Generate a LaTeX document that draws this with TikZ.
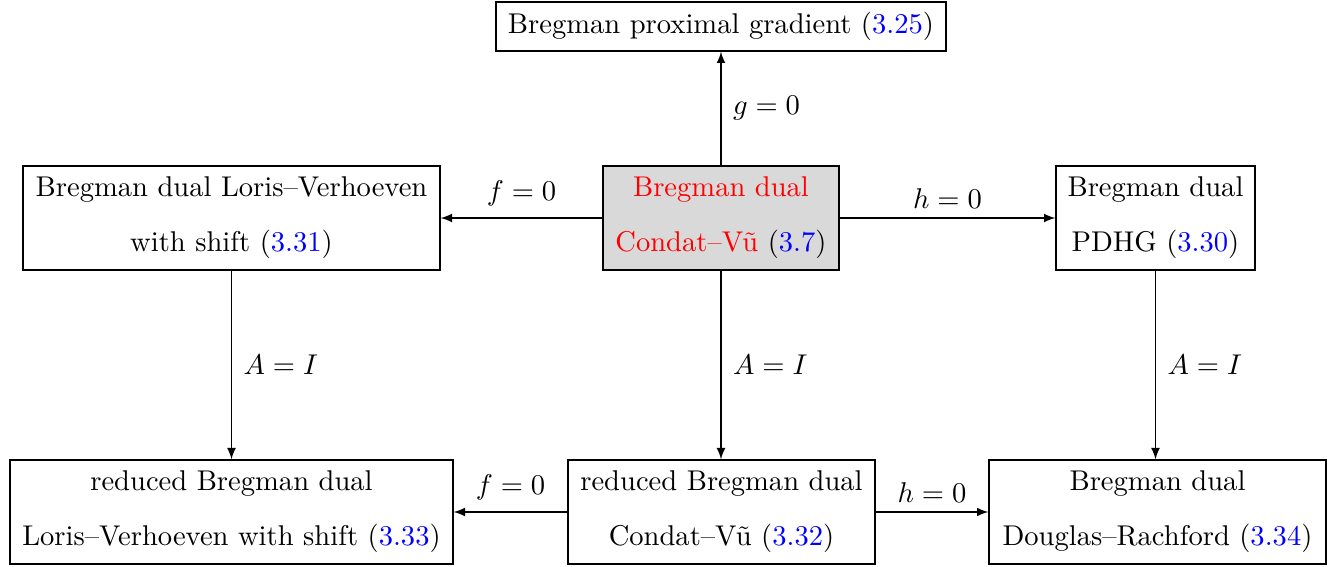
\documentclass[tikz,border=0pt]{standalone}
\usepackage{fontspec}
\usetikzlibrary{arrows}
\newdimen\pxu \pxu=0.35pt
\begin{document}
\begin{tikzpicture}[x=0.35pt,y=-0.35pt,
  box/.style={draw, inner sep=0pt, align=center, font=\normalsize},
  arr/.style={-latex, line width=0.4pt},
  lab/.style={inner sep=2pt}]
\useasboundingbox (0,0) rectangle (1338,567);
\newcommand\eqr[1]{(\textcolor{blue}{#1})}
\node[box, minimum width=450*\pxu, minimum height=49*\pxu] (top) at (721,26.5) {Bregman proximal gradient \eqr{3.25}};
\node[box, fill=gray!30, minimum width=236*\pxu, minimum height=104*\pxu] (c) at (721,218)
  {\textcolor{red}{Bregman dual}\\[7.25pt]\textcolor{red}{Condat--Vũ} \eqr{3.7}};
\node[box, minimum width=417*\pxu, minimum height=104*\pxu] (l) at (231.5,218)
  {Bregman dual Loris--Verhoeven\\[7.25pt]with shift \eqr{3.31}};
\node[box, minimum width=199*\pxu, minimum height=104*\pxu] (r) at (1155.5,218)
  {Bregman dual\\[7.25pt]PDHG \eqr{3.30}};
\node[box, minimum width=443*\pxu, minimum height=104*\pxu] (bl) at (231.5,512)
  {reduced Bregman dual\\[7.25pt]Loris--Verhoeven with shift \eqr{3.33}};
\node[box, minimum width=307*\pxu, minimum height=104*\pxu] (bc) at (721.5,512)
  {reduced Bregman dual\\[7.25pt]Condat--Vũ \eqr{3.32}};
\node[box, minimum width=337*\pxu, minimum height=104*\pxu] (br) at (1157.5,512)
  {Bregman dual\\[7.25pt]Douglas--Rachford \eqr{3.34}};

\draw[arr] (c.north) -- node[lab, right=2pt] {$g=0$} (top.south -| c.north);
\draw[arr] (c.west) -- node[lab, above=2pt] {$f=0$} (l.east);
\draw[arr] (c.east) -- node[lab, above=1pt] {$h=0$} (r.west);
\draw[arr] (l.south) -- node[lab, right=2pt] {$A=I$} (l.south |- bl.north);
\draw[arr] (c.south) -- node[lab, right=2pt] {$A=I$} (c.south |- bc.north);
\draw[arr] (r.south) -- node[lab, right=2pt] {$A=I$} (r.south |- br.north);
\draw[arr] (bc.west) -- node[lab, above=2pt] {$f=0$} (bl.east);
\draw[arr] (bc.east) -- node[lab, above=1pt] {$h=0$} (br.west);
\end{tikzpicture}
\end{document}
